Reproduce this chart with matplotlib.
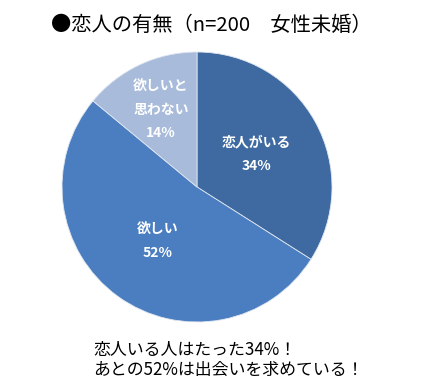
import matplotlib
matplotlib.use("Agg")
import matplotlib.pyplot as plt
import numpy as np

plt.rcParams['font.family'] = ['Noto Sans CJK JP', 'DejaVu Sans']

# data
labels = ['恋人がいる', '欲しい', '欲しいと\n思わない']
values = [34, 52, 14]
colors = ['#3e6aa1', '#4a7ec0', '#a8bbda']
label_r = [0.5, 0.5, 0.63]

title = '●恋人の有無（n=200\u3000女性未婚）'
note = '恋人いる人はたった34%！\nあとの52%は出会いを求めている！'

W, H = 426, 384
fig = plt.figure(figsize=(W / 100, H / 100), dpi=100)
fig.patch.set_facecolor('white')

# pie centre (197,187) px, radius 135 px
cx, cy, r = 197, 187, 135
ax = fig.add_axes([(cx - r) / W, (H - cy - r) / H, 2 * r / W, 2 * r / H])
wedges, _ = ax.pie(values, colors=colors, startangle=90, counterclock=False,
                   radius=1.0,
                   wedgeprops=dict(edgecolor='#dfe6f0', linewidth=0.6))
ax.set_xlim(-1, 1)
ax.set_ylim(-1, 1)
ax.set_aspect('equal')
ax.axis('off')

for w, lab, v, rr in zip(wedges, labels, values, label_r):
    ang = np.deg2rad((w.theta1 + w.theta2) / 2)
    ax.text(rr * np.cos(ang), rr * np.sin(ang), f'{lab}\n{v}%',
            ha='center', va='center', color='white', fontsize=10,
            fontweight='bold', linespacing=1.85)

fig.text(211 / W, 1 - 25 / H, title, ha='center', va='center', fontsize=14.6)
fig.text(93 / W, 1 - 360 / H, note, ha='left', va='center', fontsize=12.2,
         linespacing=1.2)

fig.savefig('out.png', dpi=100, facecolor='white')
